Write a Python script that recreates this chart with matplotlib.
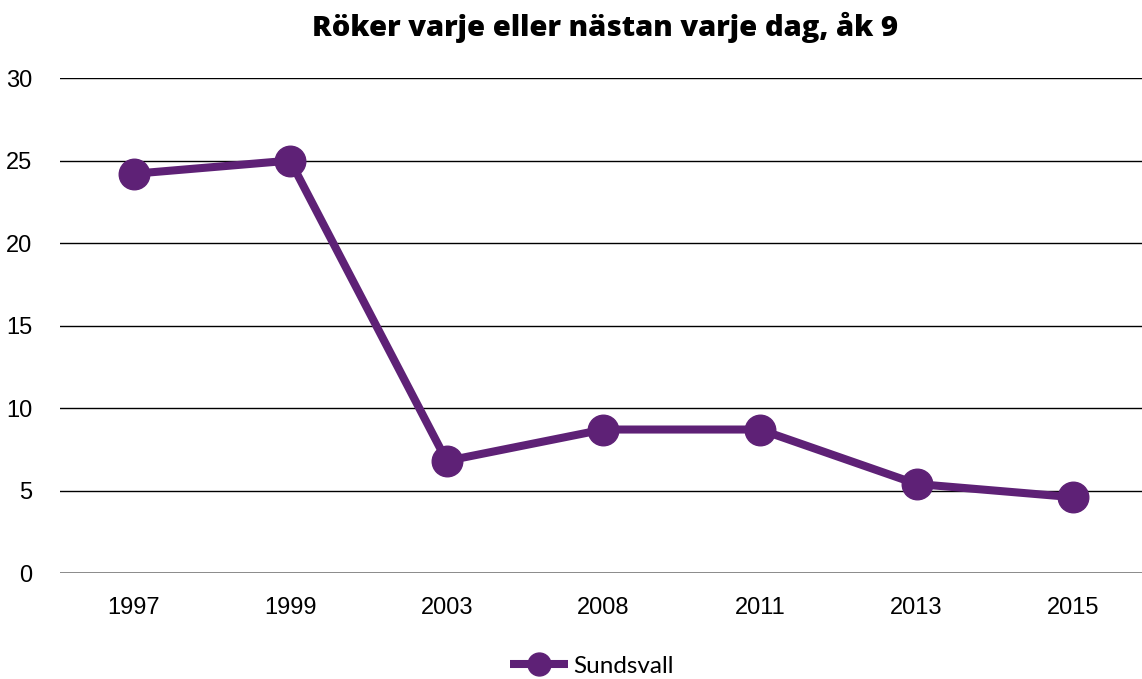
import matplotlib.pyplot as plt

years = ["1997", "1999", "2003", "2008", "2011", "2013", "2015"]
sundsvall = [24.2, 25.0, 6.8, 8.7, 8.7, 5.4, 4.6]
yticks = [0, 5, 10, 15, 20, 25, 30]

purple = "#5e2176"

fig = plt.figure(figsize=(11.42, 6.79), dpi=100)
ax = fig.add_axes([0.0525, 0.156, 0.9475, 0.729])

x = range(len(years))
ax.plot(x, sundsvall, color=purple, linewidth=5.8, marker="o",
        markersize=22, label="Sundsvall", solid_capstyle="butt", zorder=3)

ax.set_ylim(0, 30)
ax.set_xlim(-0.47, len(years) - 1 + 0.44)
ax.set_yticks(yticks)
ax.set_xticks(list(x))
ax.set_xticklabels(years)

for y in yticks[1:]:
    ax.axhline(y, color="black", linewidth=1.0, zorder=1)
ax.axhline(0, color="#808080", linewidth=2.0, zorder=1)

for s in ax.spines.values():
    s.set_visible(False)
ax.tick_params(length=0, labelsize=17, labelcolor="black")
ax.tick_params(axis="y", pad=20)
ax.tick_params(axis="x", pad=17)
for lbl in ax.get_xticklabels() + ax.get_yticklabels():
    lbl.set_fontfamily("Liberation Sans")

fig.text(0.53, 0.96, "Röker varje eller nästan varje dag, åk 9",
         ha="center", va="center", fontsize=21, fontweight="heavy",
         family="Open Sans")

fig.legend(loc="center", bbox_to_anchor=(0.518, 0.019), frameon=False,
           prop={"family": "Lato", "size": 17.5},
           handlelength=2.4, handletextpad=0.2, markerscale=0.75)

fig.savefig("out.png", dpi=100)
